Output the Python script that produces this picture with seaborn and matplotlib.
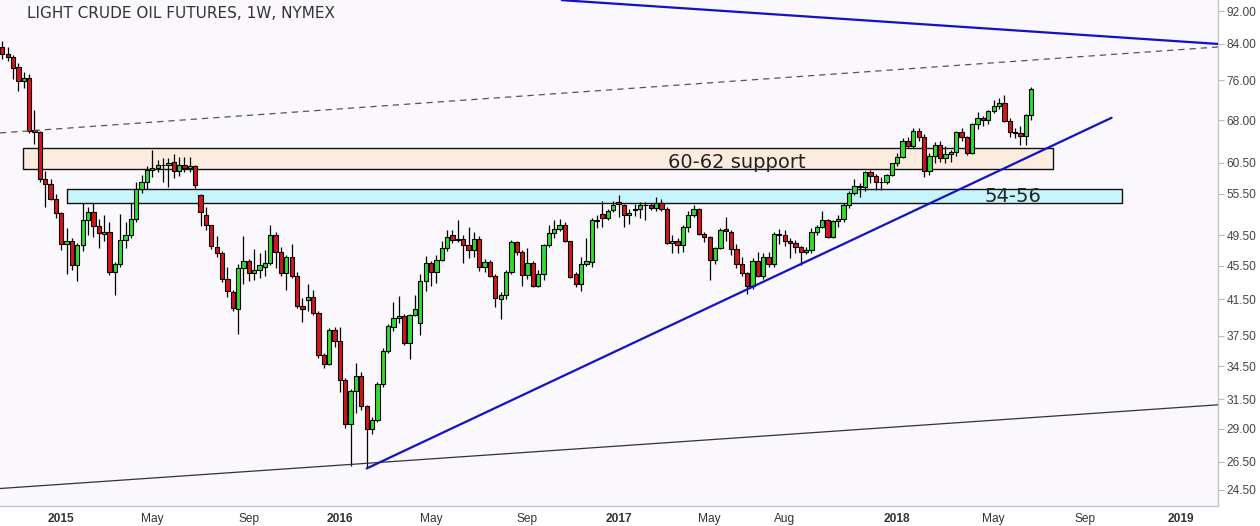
import matplotlib
matplotlib.use('Agg')
import matplotlib.pyplot as plt
import matplotlib.dates as mdates
from matplotlib.ticker import FixedLocator, FixedFormatter, NullLocator
import seaborn as sns
import pandas as pd
import numpy as np

# weekly bars, first one is the week of 2014-10-20
first_week = '2014-10-20'

open_ = [83.4, 81.6, 81.0, 78.8, 75.8, 76.5, 66.2, 65.8, 57.8, 57.1,
         54.7, 52.7, 48.3, 48.7, 45.6, 48.2, 51.7, 52.8, 50.8, 49.7,
         49.9, 44.8, 45.7, 48.9, 49.6, 51.8, 56.3, 57.4, 59.3, 59.6,
         60.2, 60.2, 60.6, 59.1, 60.1, 59.6, 59.9, 55.3, 52.4, 50.9,
         48.0, 47.1, 43.9, 42.3, 40.4, 45.2, 46.1, 44.6, 45.0, 45.4,
         45.9, 49.6, 47.3, 44.6, 46.6, 44.3, 40.7, 41.4, 41.7, 40.0,
         35.6, 34.7, 38.1, 37.0, 33.2, 29.4, 32.2, 33.6, 30.9, 29.0,
         29.7, 32.8, 36.0, 38.4, 39.4, 39.6, 36.8, 39.7, 38.9, 43.7,
         45.9, 44.7, 46.2, 47.8, 49.5, 48.9, 49.0, 48.2, 47.6, 49.0,
         45.4, 46.0, 44.2, 41.5, 42.0, 44.8, 48.6, 47.3, 44.4, 45.9,
         43.1, 44.5, 48.2, 49.8, 50.4, 51.0, 48.7, 44.5, 43.3, 45.7,
         46.0, 51.6, 52.5, 51.9, 53.1, 54.3, 53.9, 52.4, 53.1, 53.2,
         53.8, 53.9, 53.4, 54.2, 53.3, 48.5, 48.8, 48.2, 50.6, 52.3,
         53.2, 49.7, 49.3, 46.2, 47.8, 50.4, 50.0, 47.7, 45.8, 44.6,
         43.0, 46.1, 44.2, 46.6, 45.8, 49.7, 49.6, 48.8, 48.5, 47.9,
         47.3, 47.5, 49.9, 50.7, 51.7, 49.3, 51.5, 51.8, 53.9, 55.6,
         56.8, 56.6, 59.0, 58.4, 57.4, 57.3, 58.5, 60.4, 61.4, 64.3,
         63.4, 66.1, 65.0, 59.2, 61.7, 63.6, 61.3, 62.0, 62.3, 65.9,
         64.9, 62.1, 67.4, 68.4, 68.1, 69.7, 70.7, 71.3, 67.9, 65.8,
         65.7, 65.1, 69.0]

high = [84.8, 83.3, 81.5, 79.6, 77.8, 77.3, 69.9, 66.0, 59.2, 57.9,
        55.5, 52.8, 50.5, 49.2, 48.5, 54.2, 53.6, 54.2, 51.8, 52.4,
        51.3, 46.0, 52.5, 51.3, 54.2, 57.4, 58.5, 60.0, 62.6, 61.0,
        61.3, 61.3, 62.0, 61.5, 61.4, 61.5, 60.2, 55.5, 53.6, 51.0,
        49.4, 47.4, 45.3, 42.6, 45.8, 49.4, 46.4, 47.7, 47.2, 47.6,
        50.9, 50.0, 47.9, 46.9, 48.4, 44.8, 41.6, 43.3, 42.6, 40.2,
        35.8, 38.3, 38.4, 38.4, 33.4, 32.4, 34.8, 33.9, 31.0, 30.0,
        33.0, 36.3, 38.7, 41.2, 41.9, 39.8, 39.8, 42.0, 44.5, 46.8,
        46.1, 46.9, 48.8, 50.2, 50.3, 51.7, 49.5, 50.6, 49.9, 49.4,
        46.4, 46.3, 44.5, 42.3, 45.0, 48.9, 48.8, 47.6, 47.8, 46.1,
        45.0, 48.3, 51.0, 51.6, 51.8, 51.3, 48.8, 44.7, 46.6, 49.2,
        51.9, 52.4, 54.5, 53.2, 54.4, 55.3, 54.0, 53.3, 54.0, 54.3,
        54.3, 54.1, 55.0, 54.8, 53.5, 49.6, 49.1, 51.0, 53.0, 53.8,
        53.4, 50.0, 49.4, 48.0, 50.5, 52.1, 50.3, 48.4, 46.6, 44.7,
        46.5, 47.3, 47.2, 47.3, 50.0, 50.4, 50.2, 49.2, 48.9, 48.1,
        47.9, 50.5, 51.0, 52.9, 51.8, 51.6, 52.3, 54.1, 55.9, 57.9,
        57.2, 59.1, 59.3, 58.6, 58.2, 58.6, 60.5, 62.2, 64.8, 64.9,
        66.6, 66.6, 65.5, 62.2, 64.0, 64.2, 63.3, 62.7, 66.0, 66.6,
        65.1, 67.5, 69.6, 68.8, 70.0, 71.9, 72.3, 72.9, 68.4, 66.6,
        67.0, 69.3, 74.5]

low = [80.6, 80.2, 76.2, 73.8, 74.3, 65.7, 63.7, 57.3, 53.6, 54.6,
       52.0, 47.5, 44.5, 45.0, 43.6, 47.4, 49.6, 49.3, 47.8, 48.7,
       44.4, 42.0, 45.3, 47.8, 49.2, 51.4, 55.6, 56.2, 58.2, 58.9,
       57.4, 56.6, 58.0, 58.4, 58.9, 59.0, 56.5, 50.8, 50.2, 47.7,
       46.6, 43.5, 41.8, 40.2, 37.7, 43.3, 43.6, 43.8, 44.0, 44.2,
       45.6, 45.2, 44.3, 42.6, 44.0, 40.5, 39.0, 40.2, 39.7, 35.3,
       34.3, 34.6, 36.4, 32.1, 29.1, 26.2, 30.3, 30.6, 26.0, 28.6,
       29.6, 32.6, 35.8, 38.0, 38.9, 36.6, 35.2, 39.6, 37.6, 42.5,
       43.0, 43.4, 46.1, 47.4, 48.5, 48.6, 45.9, 46.5, 46.6, 44.9,
       44.8, 44.1, 40.6, 39.3, 41.5, 44.5, 46.9, 43.0, 43.9, 42.9,
       42.9, 43.8, 47.9, 49.2, 50.1, 48.6, 44.0, 42.9, 42.5, 45.5,
       45.4, 50.5, 50.7, 51.6, 52.8, 52.1, 50.7, 51.1, 52.2, 52.0,
       51.6, 53.1, 53.0, 52.9, 48.4, 47.1, 47.1, 47.3, 50.0, 52.1,
       49.5, 48.6, 43.8, 45.8, 47.7, 48.8, 46.9, 45.2, 44.3, 42.1,
       42.7, 44.1, 43.9, 45.4, 45.4, 48.4, 48.1, 46.5, 47.1, 45.6,
       47.0, 47.1, 49.5, 50.5, 49.2, 49.1, 50.7, 51.3, 53.4, 55.3,
       55.0, 56.0, 57.2, 56.1, 56.1, 57.0, 58.3, 59.9, 61.3, 63.0,
       63.0, 64.2, 58.1, 58.5, 60.5, 60.7, 60.4, 60.6, 61.6, 64.2,
       61.8, 61.9, 66.5, 67.0, 67.3, 69.5, 70.2, 67.7, 65.0, 64.8,
       63.6, 63.6, 68.1]

close = [81.6, 81.0, 78.7, 75.8, 76.5, 66.1, 65.8, 57.8, 57.1, 54.7,
         52.7, 48.4, 48.7, 45.6, 48.2, 51.7, 52.8, 50.8, 49.8, 49.9,
         44.8, 45.7, 48.9, 49.6, 51.8, 56.3, 57.4, 59.3, 59.6, 60.2,
         60.1, 60.4, 59.1, 60.1, 59.6, 59.9, 56.9, 52.8, 50.9, 48.1,
         47.1, 43.9, 42.5, 40.5, 45.2, 46.1, 44.6, 45.0, 45.6, 45.9,
         49.6, 47.3, 44.6, 46.6, 44.3, 40.7, 40.4, 41.7, 40.0, 35.6,
         34.7, 38.1, 37.0, 33.2, 29.4, 32.2, 33.6, 30.9, 29.0, 29.7,
         32.8, 36.0, 38.5, 39.4, 39.6, 36.8, 39.7, 40.4, 43.7, 45.9,
         44.7, 46.2, 47.8, 49.3, 48.9, 49.0, 48.2, 47.6, 49.0, 45.4,
         46.0, 44.2, 41.6, 42.0, 44.8, 48.6, 47.3, 44.4, 45.9, 43.1,
         44.5, 48.2, 49.8, 50.4, 51.0, 48.7, 44.1, 43.3, 45.7, 46.1,
         51.7, 51.5, 51.9, 53.0, 53.8, 54.0, 52.4, 52.6, 53.2, 53.8,
         53.9, 53.4, 54.2, 53.3, 48.5, 48.8, 48.2, 50.6, 52.3, 53.2,
         49.7, 49.3, 46.2, 47.8, 50.3, 50.1, 47.7, 45.8, 44.6, 43.0,
         46.1, 44.2, 46.6, 45.8, 49.7, 49.6, 48.8, 48.5, 47.9, 47.3,
         47.5, 49.9, 50.7, 51.7, 49.3, 51.5, 51.8, 53.9, 55.6, 56.8,
         56.6, 59.0, 58.4, 57.4, 57.3, 58.5, 60.4, 61.4, 64.3, 63.4,
         66.1, 65.0, 59.2, 61.7, 63.6, 61.3, 62.0, 62.3, 65.9, 64.9,
         62.1, 67.4, 68.4, 68.1, 69.7, 70.7, 71.3, 67.9, 65.8, 65.7,
         65.1, 69.0, 74.2]

# drawn lines (two end points each)
resist_dates = ['2016-10-20', '2019-02-24']
resist_prices = [94.8, 84.0]
channel_dates = ['2014-10-17', '2019-02-24']
channel_mid = [65.7, 83.3]
channel_low = [24.6, 31.0]
trend_dates = ['2016-02-08', '2018-10-08']
trend_prices = [26.0, 68.5]

# zones
zone_hi_dates = ['2014-11-16', '2018-07-23']
zone_hi_prices = [59.4, 63.0]
zone_lo_dates = ['2015-01-12', '2018-10-22']
zone_lo_prices = [54.2, 56.2]

y_ticks = [24.5, 26.5, 29.0, 31.5, 34.5, 37.5, 41.5, 45.5, 49.5, 55.5, 60.5, 68.0, 76.0, 84.0, 92.0]
x_tick_dates = ['2015-01-05', '2015-05-04', '2015-09-07', '2016-01-04', '2016-05-02', '2016-09-05',
                '2017-01-02', '2017-05-01', '2017-08-07', '2018-01-01', '2018-05-07', '2018-09-03',
                '2019-01-07']
x_tick_labels = ['2015', 'May', 'Sep', '2016', 'May', 'Sep', '2017', 'May', 'Aug', '2018', 'May', 'Sep', '2019']

sns.set_style('white')
plt.rcParams['font.family'] = ['DejaVu Sans']

df = pd.DataFrame({'open': open_, 'high': high, 'low': low, 'close': close})
df['date'] = pd.date_range(first_week, periods=len(df), freq='7D')
df['x'] = mdates.date2num(df['date'])
df['up'] = df['close'] >= df['open']

def num(ds):
    return mdates.date2num(pd.to_datetime(ds))

fig = plt.figure(figsize=(12.6, 5.26), dpi=100)
ax = fig.add_axes([0, 1 - 506 / 526, 1218 / 1260, 506 / 526])
ax.set_facecolor('#faf7fd')
ax.set_yscale('log')

# zones
for dts, prs, col in [(zone_hi_dates, zone_hi_prices, '#fcebdf'),
                      (zone_lo_dates, zone_lo_prices, '#c8f5fc')]:
    xs = num(dts)
    ax.fill_between(xs, prs[0], prs[1], facecolor=col, edgecolor='#111111', linewidth=1.0, zorder=1)

# candles
ax.vlines(df['x'], df['low'], df['high'], color='black', linewidth=0.9, zorder=2)
body_bottom = np.minimum(df['open'], df['close'])
body_h = np.maximum(np.abs(df['close'] - df['open']), 0.02)
colors = np.where(df['up'], '#2fdc2f', '#d41616')
ax.bar(df['x'], body_h, bottom=body_bottom, width=5.6, color=colors,
       edgecolor='black', linewidth=0.8, zorder=3)

# trend lines
sns.lineplot(x=num(resist_dates), y=resist_prices, ax=ax, color='#1212c4', linewidth=1.6, zorder=4)
sns.lineplot(x=num(channel_dates), y=channel_mid, ax=ax, color='#555555', linewidth=0.9,
             linestyle=(0, (5, 4)), zorder=4)
sns.lineplot(x=num(channel_dates), y=channel_low, ax=ax, color='#333333', linewidth=0.9, zorder=4)
sns.lineplot(x=num(trend_dates), y=trend_prices, ax=ax, color='#1212c4', linewidth=1.6, zorder=4)

ax.text(num('2017-03-08'), 59.6, '60-62 support', fontsize=14, color='#222222', va='baseline', zorder=5)
ax.text(num('2018-04-25'), 54.3, '54-56', fontsize=14, color='#222222', va='baseline', zorder=5)
ax.text(27 / 1218, 1 - 14 / 506, 'LIGHT CRUDE OIL FUTURES, 1W, NYMEX', transform=ax.transAxes,
        fontsize=11, color='#333333', va='center', ha='left')

ax.set_xlim(num('2014-10-17'), num('2019-02-24'))
ax.set_ylim(23.44, 94.84)

ax.yaxis.tick_right()
ax.yaxis.set_major_locator(FixedLocator(y_ticks))
ax.yaxis.set_major_formatter(FixedFormatter(['%.2f' % v for v in y_ticks]))
ax.yaxis.set_minor_locator(NullLocator())
ax.xaxis.set_major_locator(FixedLocator(num(x_tick_dates)))
ax.xaxis.set_major_formatter(FixedFormatter(x_tick_labels))
ax.xaxis.set_minor_locator(NullLocator())
ax.tick_params(axis='y', length=4, width=0.8, color='#bbbbbb', labelsize=8.6,
               labelcolor='#444444', pad=2)
ax.tick_params(axis='x', length=3, width=0.8, color='#cccccc', labelsize=8.6,
               labelcolor='#333333', pad=2)
for lbl in ax.get_xticklabels() + ax.get_yticklabels():
    lbl.set_fontfamily('Liberation Sans')
for lbl in ax.get_xticklabels():
    if lbl.get_text().isdigit():
        lbl.set_fontweight('bold')

for side in ['top', 'left']:
    ax.spines[side].set_visible(False)
for side in ['right', 'bottom']:
    ax.spines[side].set_color('#c4c4c4')
    ax.spines[side].set_linewidth(1.0)

ax.set_xlabel('')
ax.set_ylabel('')
fig.savefig('out.png', dpi=100, facecolor='white')
